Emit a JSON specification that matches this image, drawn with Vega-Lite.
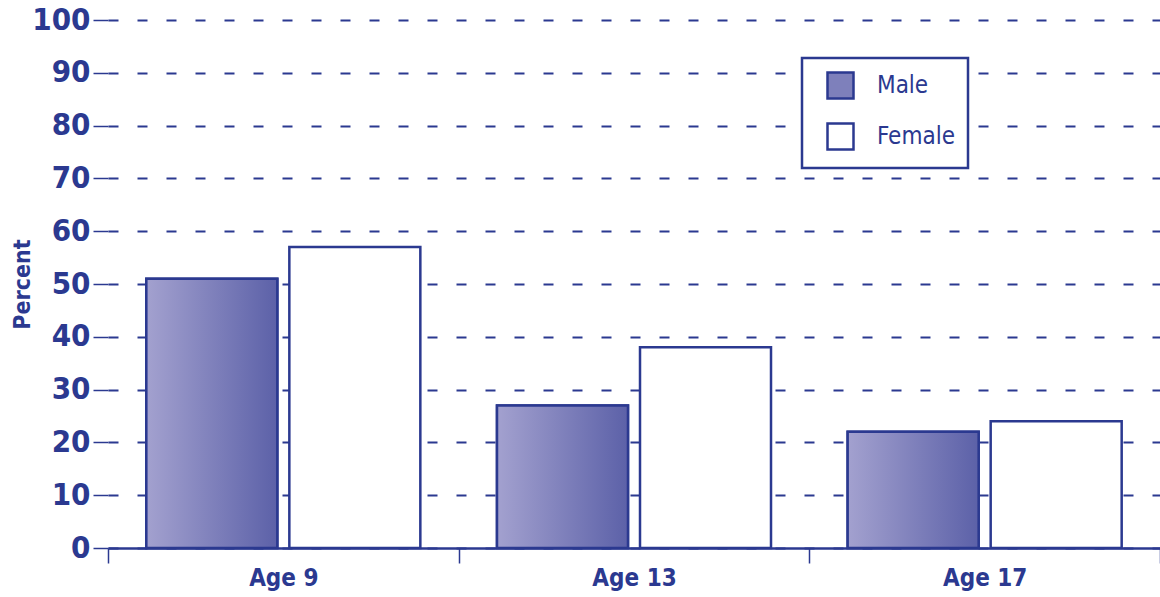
{
  "$schema": "https://vega.github.io/schema/vega-lite/v6.json",
  "autosize": {"type": "none"},
  "width": 1052,
  "height": 528,
  "padding": {"left": 108, "top": 20, "right": 0, "bottom": 49},
  "background": "white",
  "config": {"view": {"stroke": null}},
  "data": {"values": [
    {"age": "Age 9", "gender": "Male", "percent": 51},
    {"age": "Age 9", "gender": "Female", "percent": 57},
    {"age": "Age 13", "gender": "Male", "percent": 27},
    {"age": "Age 13", "gender": "Female", "percent": 38},
    {"age": "Age 17", "gender": "Male", "percent": 22},
    {"age": "Age 17", "gender": "Female", "percent": 24}
  ]},
  "encoding": {
    "x": {"field": "age", "type": "nominal", "sort": ["Age 9", "Age 13", "Age 17"],
      "scale": {"paddingInner": 0, "paddingOuter": 0},
      "axis": {"title": null, "labelAngle": 0, "tickBand": "extent", "tickSize": 15, "tickWidth": 1.5,
        "tickColor": "#2b3990", "domainColor": "#2b3990", "domainWidth": 2.5,
        "labelFont": "DejaVu Sans Condensed, sans-serif", "labelFontWeight": "bold",
        "labelFontSize": 24, "labelColor": "#2b3990", "labelPadding": 3}},
    "xOffset": {"field": "gender", "type": "nominal",
      "scale": {"domain": ["Male", "Female"], "paddingInner": 0.084, "paddingOuter": 0.268}},
    "y": {"field": "percent", "type": "quantitative",
      "scale": {"domain": [0, 100], "nice": false},
      "axis": {"title": "Percent", "values": [0, 10, 20, 30, 40, 50, 60, 70, 80, 90, 100],
        "domain": false, "grid": true, "gridColor": "#2b3990", "gridWidth": 2, "gridDash": [10, 19],
        "tickSize": 15, "tickWidth": 1.5, "tickColor": "#2b3990", "labelPadding": 3,
        "labelFont": "DejaVu Sans Condensed, sans-serif", "labelFontWeight": "bold",
        "labelFontSize": 31, "labelColor": "#2b3990",
        "titleFont": "DejaVu Sans Condensed, sans-serif", "titleFontWeight": "bold",
        "titleFontSize": 23, "titleColor": "#2b3990", "titleX": -86, "titleY": 264,
        "titleBaseline": "middle", "titleAngle": -90}}
  },
  "layer": [
    {
      "mark": {"type": "bar", "stroke": "#2b3990", "strokeWidth": 2.5},
      "encoding": {
        "fill": {"field": "gender", "type": "nominal",
          "scale": {"domain": ["Male", "Female"], "range": ["#7e80bb", "#ffffff"]},
          "legend": {"title": null, "orient": "none", "legendX": 694, "legendY": 38,
            "direction": "vertical", "strokeColor": "#2b3990", "fillColor": "white",
            "padding": 13, "symbolType": "square", "symbolSize": 676, "symbolStrokeWidth": 2.5,
            "symbolStrokeColor": "#2b3990", "symbolOffset": 11, "rowPadding": 14, "labelOffset": 22,
            "labelFont": "DejaVu Sans Condensed, sans-serif", "labelFontSize": 24,
            "labelColor": "#2b3990",
            "encode": {
              "legend": {"update": {"strokeWidth": {"value": 2.5}}},
              "symbols": {"update": {
                "stroke": {"value": "#2b3990"},
                "strokeWidth": {"value": 2.5},
                "fill": [
                  {"test": "datum.label === 'Male'", "value": {"gradient": "linear", "x1": 0, "y1": 0, "x2": 1, "y2": 0,
                    "stops": [{"offset": 0, "color": "#a3a1cf"}, {"offset": 1, "color": "#5c61a8"}]}},
                  {"value": "#ffffff"}
                ]}}
            }}}
      }
    },
    {
      "transform": [{"filter": "datum.gender === 'Male'"}],
      "mark": {"type": "bar", "stroke": "#2b3990", "strokeWidth": 2.5,
        "fill": {"gradient": "linear", "x1": 0, "y1": 0, "x2": 1, "y2": 0,
          "stops": [{"offset": 0, "color": "#a3a1cf"}, {"offset": 1, "color": "#5c61a8"}]}}
    }
  ]
}
